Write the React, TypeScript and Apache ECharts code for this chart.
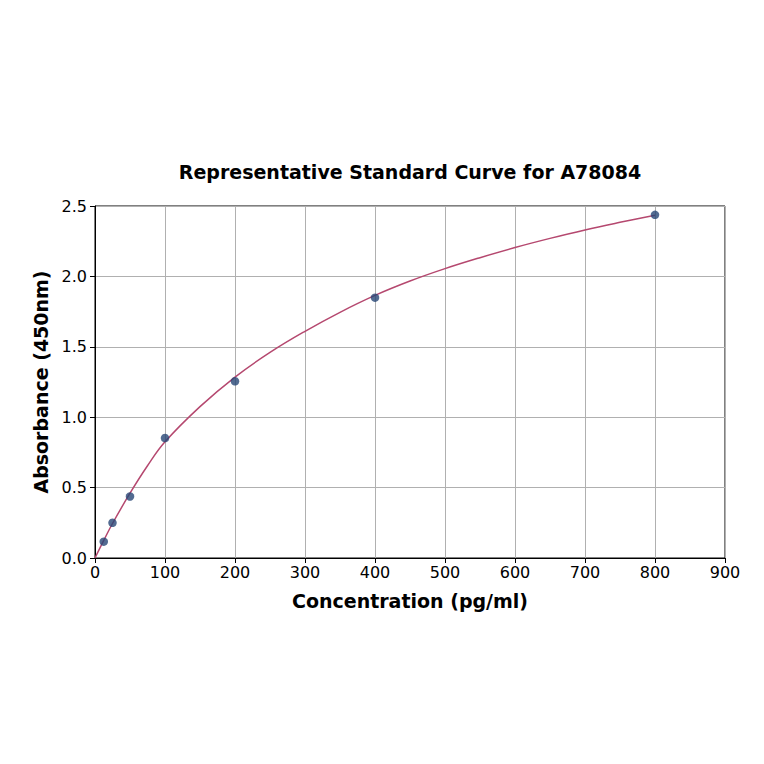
import React, { useEffect, useRef } from 'react';
import * as echarts from 'echarts';

// measured standards
const concentrations = [12.5, 25, 50, 100, 200, 400, 800];
const absorbances = [0.116, 0.25, 0.437, 0.852, 1.255, 1.849, 2.437];

// fitted curve
const curveX = [0, 12.5, 25, 50, 75, 100, 150, 200, 250, 300, 350, 400, 450, 500, 550, 600, 650, 700, 750, 800];
const curveY = [0, 0.125, 0.245, 0.46, 0.655, 0.825, 1.075, 1.285, 1.46, 1.61, 1.745, 1.865, 1.967, 2.055, 2.133, 2.205, 2.27, 2.33, 2.384, 2.435];

const xTicks = [0, 900, 100];
const yTicks = [0, 2.5, 0.5];

const FONT = 'DejaVu Sans';

const App: React.FC = () => {
  const chartRef = useRef<HTMLDivElement>(null);

  useEffect(() => {
    if (!chartRef.current) return;
    const chart = echarts.init(chartRef.current, undefined, { renderer: 'svg' });

    const option = {
      animation: false,
      backgroundColor: '#fff',
      textStyle: { fontFamily: FONT },
      grid: {
        left: 95,
        right: 39,
        top: 206,
        bottom: 206,
        show: true,
        borderColor: '#000',
        borderWidth: 1,
      },
      graphic: [
        {
          type: 'text',
          x: 410,
          y: 172,
          style: {
            text: 'Representative Standard Curve for A78084',
            font: `bold 19px "${FONT}"`,
            fill: '#000',
            textAlign: 'center',
            textVerticalAlign: 'middle',
          },
        },
      ],
      xAxis: {
        type: 'value',
        min: xTicks[0],
        max: xTicks[1],
        interval: xTicks[2],
        name: 'Concentration (pg/ml)',
        nameLocation: 'middle',
        nameGap: 33,
        nameTextStyle: { fontSize: 19, fontWeight: 'bold', color: '#000', fontFamily: FONT },
        axisLine: { show: true, lineStyle: { color: '#000', width: 1 } },
        axisTick: { show: true, inside: false, length: 5, lineStyle: { color: '#000' } },
        axisLabel: { fontSize: 16, color: '#000', margin: 6, fontFamily: FONT },
        splitLine: { show: true, lineStyle: { color: '#b0b0b0', width: 1 } },
      },
      yAxis: {
        type: 'value',
        min: yTicks[0],
        max: yTicks[1],
        interval: yTicks[2],
        name: 'Absorbance (450nm)',
        nameLocation: 'middle',
        nameGap: 45,
        nameRotate: 90,
        nameTextStyle: { fontSize: 19, fontWeight: 'bold', color: '#000', fontFamily: FONT },
        axisLine: { show: true, lineStyle: { color: '#000', width: 1 } },
        axisTick: { show: true, inside: false, length: 5, lineStyle: { color: '#000' } },
        axisLabel: {
          fontSize: 16,
          color: '#000',
          margin: 8,
          fontFamily: FONT,
          formatter: (v: number) => v.toFixed(1),
        },
        splitLine: { show: true, lineStyle: { color: '#b0b0b0', width: 1 } },
      },
      series: [
        {
          type: 'line',
          data: curveX.map((x, i) => [x, curveY[i]]),
          smooth: 0.4,
          showSymbol: false,
          lineStyle: { color: '#b5486f', width: 1.5 },
          z: 2,
        },
        {
          type: 'scatter',
          data: concentrations.map((x, i) => [x, absorbances[i]]),
          symbolSize: 8.5,
          itemStyle: { color: '#274675' },
          z: 3,
        },
      ],
    };

    chart.setOption(option as any);
    return () => {
      chart.dispose();
    };
  }, []);

  return (
    <div
      ref={chartRef}
      style={{ position: 'absolute', left: 0, top: 0, width: 764, height: 764 }}
    />
  );
};

export default App;
